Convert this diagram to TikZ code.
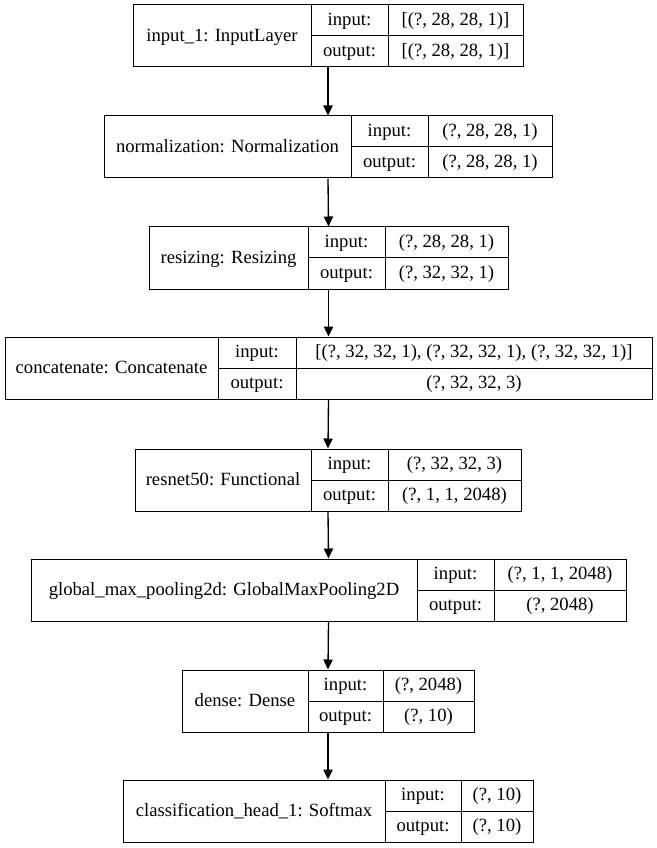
\documentclass[tikz,border=0pt]{standalone}
\usepackage{fontspec}
\setmainfont{Liberation Serif}
\usetikzlibrary{arrows.meta, positioning}

% one keras layer: name, top, left, split1, split2, right, title, input, output
\newcommand{\kerasbox}[9]{
    \node[layer, minimum width={(#6-#3)*0.75pt}, minimum height={62*0.75pt}]
        (#1) at ({(#3+#6)/2},{#2+31}) {};
    \draw (#4,#2) -- (#4,{#2+62});
    \draw (#5,#2) -- (#5,{#2+62});
    \draw (#4,{#2+31}) -- (#6,{#2+31});
    \node[txt] (#1-name) at ({(#3+#4)/2},{#2+31}) {#7};
    \node[txt] (#1-inl) at ({(#4+#5)/2},{#2+15.5}) {input:};
    \node[txt] (#1-outl) at ({(#4+#5)/2},{#2+46.5}) {output:};
    \node[txt] (#1-inv) at ({(#5+#6)/2},{#2+15.5}) {#8};
    \node[txt] (#1-outv) at ({(#5+#6)/2},{#2+46.5}) {#9};
}

\begin{document}
\begin{tikzpicture}[x=0.75pt, y=-0.75pt, line width=0.75pt,
    layer/.style={draw, inner sep=0pt},
    txt/.style={inner sep=0pt, text height=11pt, text depth=3pt,
                font=\fontsize{14}{16}\selectfont},
    arr/.style={-{Triangle[length=7.5pt, width=7pt]}, line width=1pt}]
    \useasboundingbox (0,0) rectangle (656,848);
    \kerasbox{inp}{5}{133}{311}{388}{523}{input\_1: InputLayer}{[(?, 28, 28, 1)]}{[(?, 28, 28, 1)]}
    \kerasbox{norm}{116}{104}{351}{428}{552}{normalization: Normalization}{(?, 28, 28, 1)}{(?, 28, 28, 1)}
    \kerasbox{resize}{227}{149}{308}{385}{508}{resizing: Resizing}{(?, 28, 28, 1)}{(?, 32, 32, 1)}
    \kerasbox{concat}{337}{5}{218}{296}{652}{concatenate: Concatenate}{[(?, 32, 32, 1), (?, 32, 32, 1), (?, 32, 32, 1)]}{(?, 32, 32, 3)}
    \kerasbox{resnet}{449}{135}{311}{388}{521}{resnet50: Functional}{(?, 32, 32, 3)}{(?, 1, 1, 2048)}
    \kerasbox{gpool}{559}{31}{417}{494}{626}{global\_max\_pooling2d: GlobalMaxPooling2D}{(?, 1, 1, 2048)}{(?, 2048)}
    \kerasbox{dense}{670}{182}{308}{383}{474}{dense: Dense}{(?, 2048)}{(?, 10)}
    \kerasbox{head}{780}{123}{385}{461}{533}{classification\_head\_1: Softmax}{(?, 10)}{(?, 10)}
    \draw[arr] (inp.south) -- (norm.north);
    \draw[arr] (norm.south) -- (resize.north);
    \draw[arr] (resize.south) -- (concat.north);
    \draw[arr] (concat.south) -- (resnet.north);
    \draw[arr] (resnet.south) -- (gpool.north);
    \draw[arr] (gpool.south) -- (dense.north);
    \draw[arr] (dense.south) -- (head.north);
\end{tikzpicture}
\end{document}
